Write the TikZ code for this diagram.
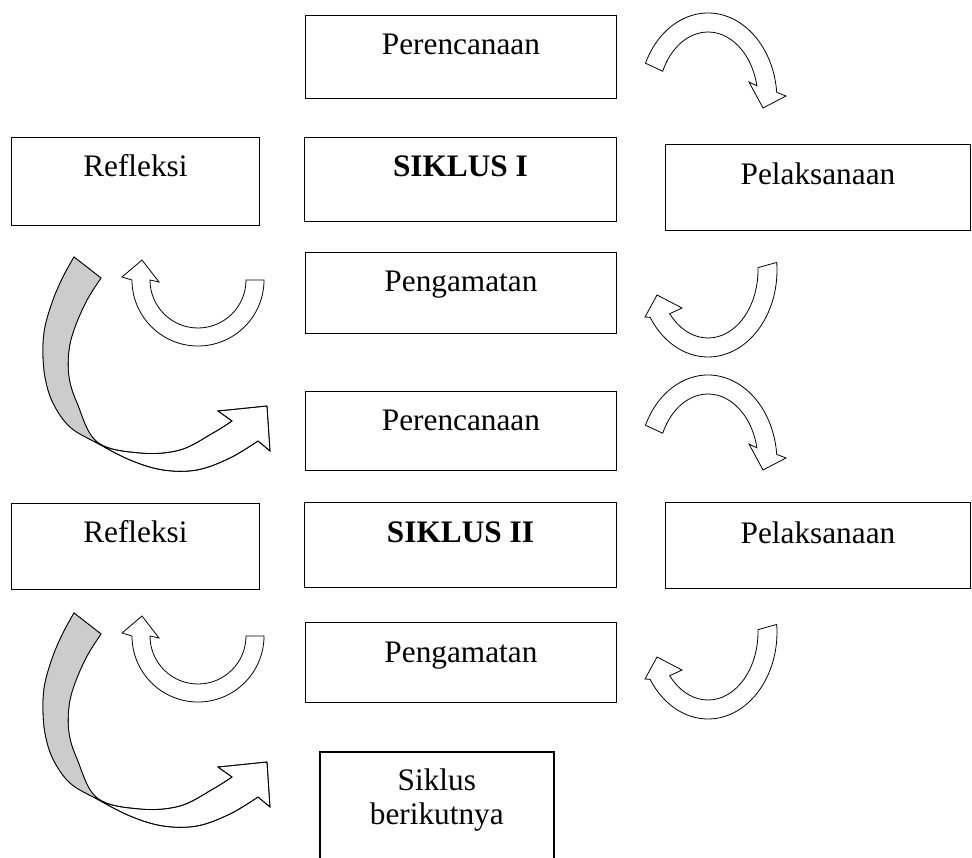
\documentclass[tikz,border=0pt]{standalone}
\usepackage{fontspec}
\setmainfont{Liberation Serif}
\usetikzlibrary{calc}
\newcommand\bigarrowpathA{plot[smooth, tension=0.6] coordinates {(74,-257) (63,-277) (53,-300) (45,-327) (43,-350) (45,-377) (53,-403) (70,-427) (97,-443) (130,-460) (163,-470) (197,-470) (230,-458) (258,-441)} -- (270,-451) -- (267,-406) -- (218,-411) -- plot[smooth, tension=0.6] coordinates {(232,-421) (213,-433) (180,-450) (140,-453) (97,-442) (77,-403) (69,-377) (69,-350) (75,-327) (87,-300) (101,-278)} -- cycle}
\begin{document}
\begin{tikzpicture}[x=1pt,y=1pt,
  box/.style={draw, line width=0.9pt, anchor=north west, inner sep=0pt},
  lbl/.style={anchor=base, inner sep=0pt, font=\fontsize{31.3}{36}\selectfont},
  arr/.style={draw, line width=0.8pt, fill=white, line join=miter},
  shade/.style={fill=black!20}]
\useasboundingbox (0,0) rectangle (972,-858);
\clip (0,0) rectangle (972,-858);

% ---------- boxes, cycle I ----------
\node[box, minimum width=311pt, minimum height=83pt] (per1) at (305,-15) {};
\node[box, minimum width=248pt, minimum height=88pt] (ref1) at (11,-137) {};
\node[box, minimum width=312pt, minimum height=84pt] (sik1) at (304,-137) {};
\node[box, minimum width=305pt, minimum height=86pt] (pel1) at (665,-144) {};
\node[box, minimum width=311pt, minimum height=81pt] (pen1) at (305,-252) {};
% ---------- boxes, cycle II ----------
\node[box, minimum width=311pt, minimum height=79pt] (per2) at (305,-391) {};
\node[box, minimum width=248pt, minimum height=86pt] (ref2) at (11,-503) {};
\node[box, minimum width=312pt, minimum height=85pt] (sik2) at (304,-502) {};
\node[box, minimum width=305pt, minimum height=86pt] (pel2) at (665,-502) {};
\node[box, minimum width=311pt, minimum height=80pt] (pen2) at (305,-622) {};
\node[box, line width=1.6pt, minimum width=234pt, minimum height=120pt] (next) at (319,-751) {};

% ---------- labels ----------
\node[lbl] (tper1) at ([yshift=-40pt]per1.north) {Perencanaan};
\node[lbl] (tref1) at ([yshift=-40pt]ref1.north) {Refleksi};
\node[lbl] (tsik1) at ([yshift=-40pt]sik1.north) {\textbf{SIKLUS I}};
\node[lbl] (tpel1) at ([yshift=-41pt]pel1.north) {Pelaksanaan};
\node[lbl] (tpen1) at ([yshift=-40pt]pen1.north) {Pengamatan};
\node[lbl] (tper2) at ([yshift=-40pt]per2.north) {Perencanaan};
\node[lbl] (tref2) at ([yshift=-39pt]ref2.north) {Refleksi};
\node[lbl] (tsik2) at ([yshift=-40pt]sik2.north) {\textbf{SIKLUS II}};
\node[lbl] (tpel2) at ([yshift=-41pt]pel2.north) {Pelaksanaan};
\node[lbl] (tpen2) at ([yshift=-40pt]pen2.north) {Pengamatan};
\node[lbl] (tnext1) at ([yshift=-39pt]next.north) {Siklus};
\node[lbl] (tnext2) at ([yshift=-73pt]next.north) {berikutnya};

% ---------- curved arrows ----------
\foreach \dy/\dz in {0/0, 362/356} {
\begin{scope}[yshift=-\dy pt]
  % Perencanaan -> Pelaksanaan
  \draw[arr] ($(708,-100)+(155:69 and 87)$) arc[start angle=155, end angle=5, x radius=69, y radius=87]
     -- (786,-96) -- (763,-108) -- (749,-82) -- ($(708,-100)+(12:50 and 68)$)
     arc[start angle=12, end angle=155, x radius=50, y radius=68] -- cycle;
  % Pelaksanaan -> Pengamatan
  \draw[arr] ($(708,-270)+(5:69 and 87)$) arc[start angle=5, end angle=-147, x radius=69, y radius=87]
     -- (645,-317) -- (657,-295) -- (682,-308) -- ($(708,-270)+(-140:50 and 68)$)
     arc[start angle=-140, end angle=2, x radius=50, y radius=68] -- cycle;
\end{scope}
\begin{scope}[yshift=-\dz pt]
  % Pengamatan -> Refleksi
  \draw[arr] ($(198,-280)+(0:66)$) arc[start angle=0, end angle=-180, radius=66]
     -- (122,-277) -- (142,-260) -- (159,-282) -- ($(198,-280)+(180:48)$)
     arc[start angle=180, end angle=360, radius=48] -- cycle;
  % Refleksi -> next Perencanaan
  \filldraw[arr] \bigarrowpathA;
  \begin{scope}
    \clip (0,-240) -- (130,-240) -- (130,-380) -- (97,-442) -- (0,-470) -- cycle;
    \fill[shade] \bigarrowpathA;
  \end{scope}
  \draw[line width=0.8pt, line join=miter] \bigarrowpathA;
\end{scope}
}
\end{tikzpicture}
\end{document}
